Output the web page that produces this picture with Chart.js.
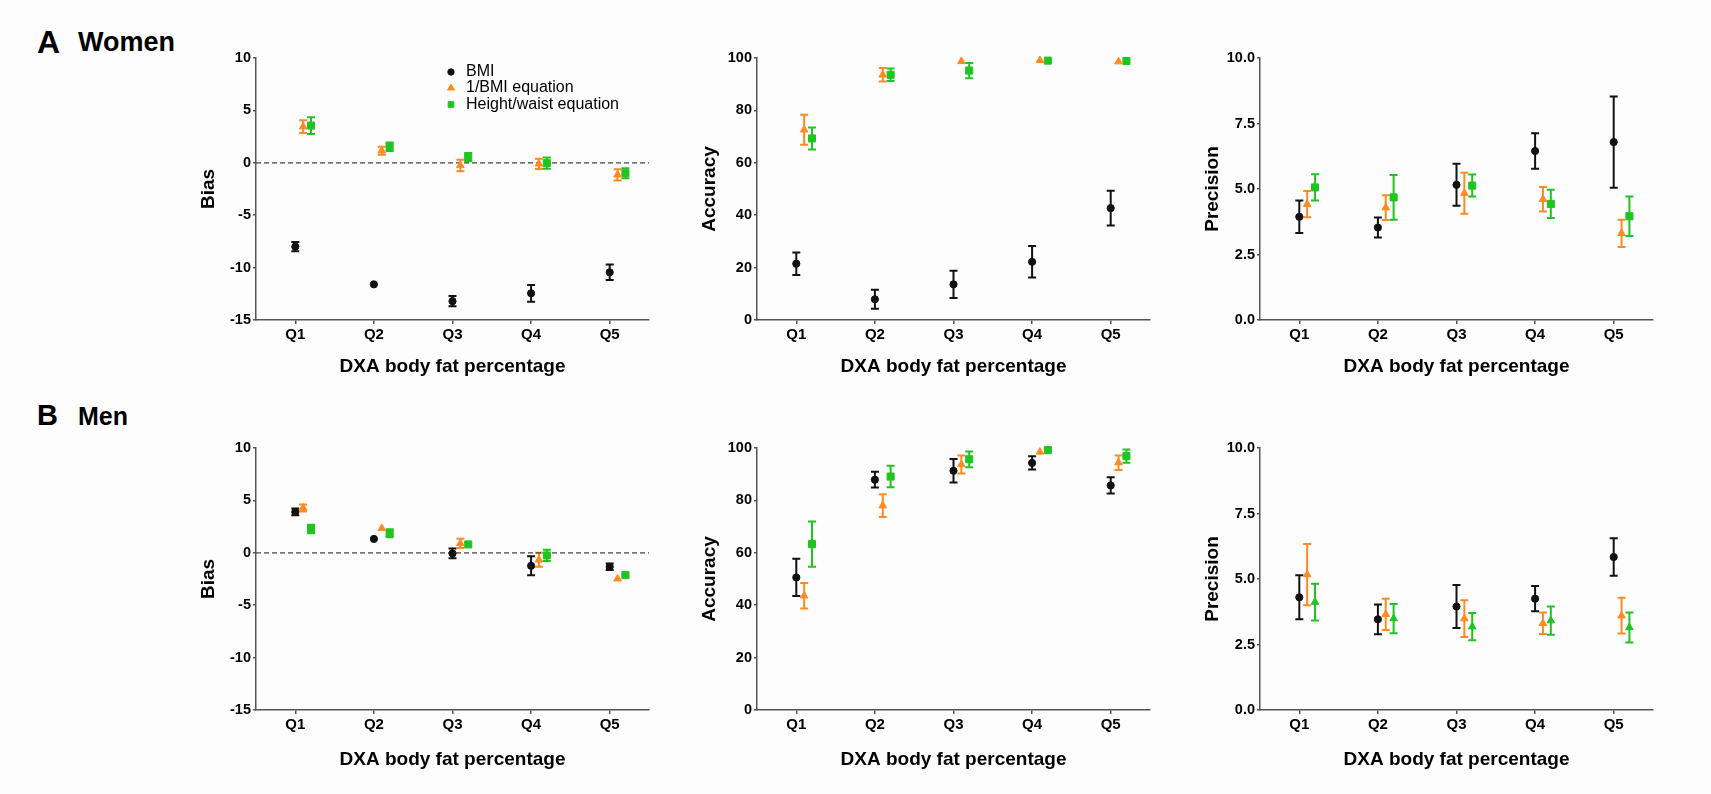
<!DOCTYPE html>
<html>
<head>
<meta charset="utf-8">
<script src="https://cdn.jsdelivr.net/npm/chart.js@4.4.0/dist/chart.umd.min.js"></script>
<style>
  body { margin: 0; width: 1711px; height: 794px; background: #fdfdfd; position: relative; overflow: hidden;
         font-family: Arial, "Liberation Sans", sans-serif; }
  canvas { position: absolute; }
  .tag { position: absolute; font-weight: bold; color: #000; white-space: nowrap; line-height: 1; }
</style>
</head>
<body>
<div class="tag" style="left:37px; top:26px; font-size:32px;">A</div>
<div class="tag" style="left:78px; top:29px; font-size:27px;">Women</div>
<div class="tag" style="left:37px; top:401px; font-size:29px;">B</div>
<div class="tag" style="left:78px; top:404px; font-size:25px;">Men</div>

<canvas id="wBias" width="498" height="362"></canvas>
<canvas id="wAcc" width="498" height="362"></canvas>
<canvas id="wPrec" width="498" height="362"></canvas>
<canvas id="mBias" width="498" height="362"></canvas>
<canvas id="mAcc" width="498" height="362"></canvas>
<canvas id="mPrec" width="498" height="362"></canvas>

<script>
// categories
const quintiles = ["Q1", "Q2", "Q3", "Q4", "Q5"];
const seriesNames = ["BMI", "1/BMI equation", "Height/waist equation"];

// women - bias (mean, ± error)
const wBiasBmi = [-8.0, -11.6, -13.2, -12.45, -10.45];
const wBiasBmiErr = [0.45, 0, 0.48, 0.8, 0.74];
const wBiasInv = [3.45, 1.15, -0.25, -0.1, -1.15];
const wBiasInvErr = [0.6, 0.37, 0.55, 0.48, 0.54];
const wBiasHw = [3.55, 1.53, 0.54, -0.03, -0.99];
const wBiasHwErr = [0.8, 0.4, 0.4, 0.54, 0.48];

// women - accuracy
const wAccBmi = [21.5, 7.9, 13.6, 22.2, 42.7];
const wAccBmiErr = [4.3, 3.6, 5.2, 6.0, 6.6];
const wAccInv = [72.6, 93.6, 98.7, 99.1, 98.6];
const wAccInvErr = [5.7, 2.6, 0, 0, 0];
const wAccHw = [69.3, 93.6, 95.2, 99.0, 98.85];
const wAccHwErr = [4.2, 2.4, 2.9, 0, 0];

// women - precision
const wPrecBmi = [3.94, 3.53, 5.16, 6.45, 6.79];
const wPrecBmiErr = [0.62, 0.38, 0.8, 0.68, 1.74];
const wPrecInv = [4.42, 4.29, 4.84, 4.61, 3.31];
const wPrecInvErr = [0.5, 0.47, 0.78, 0.47, 0.52];
const wPrecHw = [5.06, 4.68, 5.13, 4.43, 3.96];
const wPrecHwErr = [0.5, 0.85, 0.42, 0.54, 0.75];

// men - bias
const mBiasBmi = [3.9, 1.32, -0.06, -1.24, -1.33];
const mBiasBmiErr = [0.32, 0, 0.46, 0.9, 0.3];
const mBiasInv = [4.28, 2.34, 0.9, -0.67, -2.48];
const mBiasInvErr = [0.33, 0, 0.45, 0.67, 0];
const mBiasHw = [2.27, 1.86, 0.8, -0.25, -2.13];
const mBiasHwErr = [0.4, 0.38, 0, 0.53, 0];

// men - accuracy
const mAccBmi = [50.6, 87.9, 91.3, 94.3, 85.7];
const mAccBmiErr = [7.1, 3.0, 4.5, 2.55, 3.1];
const mAccInv = [43.6, 78.0, 93.7, 98.5, 94.4];
const mAccInvErr = [4.85, 4.35, 3.4, 0, 2.75];
const mAccHw = [63.3, 89.1, 95.7, 99.2, 96.9];
const mAccHwErr = [8.6, 4.1, 3.0, 0, 2.5];

// men - precision
const mPrecBmi = [4.30, 3.46, 3.95, 4.25, 5.84];
const mPrecBmiErr = [0.84, 0.57, 0.82, 0.48, 0.72];
const mPrecInv = [5.17, 3.65, 3.49, 3.31, 3.60];
const mPrecInvErr = [1.17, 0.6, 0.7, 0.41, 0.68];
const mPrecHw = [4.12, 3.49, 3.18, 3.41, 3.15];
const mPrecHwErr = [0.7, 0.56, 0.52, 0.54, 0.57];

const FONT = 'Arial, "Liberation Sans", sans-serif';
const BLACK = "#111111";
const ORANGE = "#ff8a22";
const GREEN = "#20c420";
const AXIS = "#555555";

// panel geometry (plot area)
const Y_AXIS_W = 95, X_AXIS_H = 75, PAD_TOP = 25, PAD_RIGHT = 10;

function series(vals, errs, offset, style, color, radius) {
  return {
    data: vals.map((v, i) => ({ x: i + 1 + offset, y: v })),
    errors: errs,
    pointStyle: style,
    pointRadius: radius,
    pointHoverRadius: radius,
    backgroundColor: color,
    borderColor: color,
    borderWidth: 1,
    showLine: false,
    clip: false
  };
}

const errorBars = {
  id: "errorBars",
  beforeDatasetsDraw(chart) {
    const { ctx, scales: { x, y } } = chart;
    chart.data.datasets.forEach(ds => {
      ctx.save();
      ctx.strokeStyle = ds.borderColor;
      ctx.lineWidth = 2;
      ds.data.forEach((pt, i) => {
        const e = ds.errors[i];
        if (!e) return;
        const px = x.getPixelForValue(pt.x);
        const top = y.getPixelForValue(pt.y + e);
        const bot = y.getPixelForValue(pt.y - e);
        ctx.beginPath();
        ctx.moveTo(px, top); ctx.lineTo(px, bot);
        ctx.moveTo(px - 4, top); ctx.lineTo(px + 4, top);
        ctx.moveTo(px - 4, bot); ctx.lineTo(px + 4, bot);
        ctx.stroke();
      });
      ctx.restore();
    });
  }
};

const zeroLine = {
  id: "zeroLine",
  beforeDatasetsDraw(chart) {
    const { ctx, chartArea, scales: { y } } = chart;
    const py = y.getPixelForValue(0);
    ctx.save();
    ctx.strokeStyle = "#444";
    ctx.lineWidth = 1.2;
    ctx.setLineDash([5, 3]);
    ctx.beginPath();
    ctx.moveTo(chartArea.left, py);
    ctx.lineTo(chartArea.right, py);
    ctx.stroke();
    ctx.restore();
  }
};

const legendBox = {
  id: "legendBox",
  afterDraw(chart) {
    const { ctx, chartArea } = chart;
    const rows = [14, 30, 46.5];
    chart.data.datasets.forEach((ds, i) => {
      const mx = chartArea.left + 195;
      const my = chartArea.top + rows[i];
      ctx.save();
      ctx.fillStyle = ds.backgroundColor;
      ctx.strokeStyle = ds.borderColor;
      Chart.helpers.drawPoint(ctx, { pointStyle: ds.pointStyle, radius: ds.pointStyle === "circle" ? 3.2 : 4, rotation: 0, borderWidth: 1 }, mx, my);
      ctx.fillStyle = "#000";
      ctx.font = "16px " + FONT;
      ctx.textBaseline = "middle";
      ctx.fillText(seriesNames[i], chartArea.left + 210, my);
      ctx.restore();
    });
  }
};

function makePanel(id, left, top, yTitle, yMin, yMax, yStep, fmt, datasets, extra, titleGap) {
  const cv = document.getElementById(id);
  cv.style.left = (left - Y_AXIS_W) + "px";
  cv.style.top = (top - PAD_TOP) + "px";
  new Chart(cv, {
    type: "scatter",
    data: { datasets },
    options: {
      responsive: false,
      animation: false,
      events: [],
      layout: { padding: { top: PAD_TOP, right: PAD_RIGHT, left: 0, bottom: 0 } },
      plugins: { legend: { display: false }, tooltip: { enabled: false } },
      scales: {
        x: {
          type: "linear",
          min: 0.5,
          max: 5.5,
          afterFit: s => { s.height = X_AXIS_H; },
          afterBuildTicks: s => { s.ticks = quintiles.map((q, i) => ({ value: i + 1 })); },
          ticks: {
            callback: v => quintiles[v - 1],
            color: "#000",
            font: { family: FONT, size: 15, weight: "bold" },
            padding: 2,
            maxRotation: 0
          },
          grid: { drawOnChartArea: false, drawTicks: true, tickLength: 4, color: AXIS, lineWidth: 1.5 },
          border: { display: true, color: AXIS, width: 1.5 },
          title: {
            display: true,
            text: "DXA body fat percentage",
            color: "#000",
            font: { family: FONT, size: 19, weight: "bold" },
            padding: { top: 0, bottom: titleGap }
          }
        },
        y: {
          min: yMin,
          max: yMax,
          afterFit: s => { s.width = Y_AXIS_W; },
          ticks: {
            stepSize: yStep,
            callback: fmt,
            color: "#000",
            font: { family: FONT, size: 14.5, weight: "bold" },
            padding: 2
          },
          grid: { drawOnChartArea: false, drawTicks: true, tickLength: 3, color: AXIS, lineWidth: 1.5 },
          border: { display: true, color: AXIS, width: 1.5 },
          title: {
            display: true,
            text: yTitle,
            color: "#000",
            font: { family: FONT, size: 19, weight: "bold" },
            padding: { top: 36, bottom: 0 }
          }
        }
      }
    },
    plugins: [errorBars].concat(extra)
  });
}

const intFmt = v => v;
const oneDec = v => v.toFixed(1);

function trio(bmi, bmiErr, inv, invErr, hw, hwErr, hwStyle) {
  return [
    series(bmi, bmiErr, 0, "circle", BLACK, 3.6),
    series(inv, invErr, 0.1, "triangle", ORANGE, 4.4),
    series(hw, hwErr, 0.2, hwStyle, GREEN, hwStyle === "rect" ? 5 : 4.4)
  ];
}

const ROW_A = 58, ROW_B = 448;
const COL = [256, 757, 1260];

makePanel("wBias", COL[0], ROW_A, "Bias", -15, 10, 5, intFmt,
  trio(wBiasBmi, wBiasBmiErr, wBiasInv, wBiasInvErr, wBiasHw, wBiasHwErr, "rect"), [zeroLine, legendBox], 17);
makePanel("wAcc", COL[1], ROW_A, "Accuracy", 0, 100, 20, intFmt,
  trio(wAccBmi, wAccBmiErr, wAccInv, wAccInvErr, wAccHw, wAccHwErr, "rect"), [], 17);
makePanel("wPrec", COL[2], ROW_A, "Precision", 0, 10, 2.5, oneDec,
  trio(wPrecBmi, wPrecBmiErr, wPrecInv, wPrecInvErr, wPrecHw, wPrecHwErr, "rect"), [], 17);

makePanel("mBias", COL[0], ROW_B, "Bias", -15, 10, 5, intFmt,
  trio(mBiasBmi, mBiasBmiErr, mBiasInv, mBiasInvErr, mBiasHw, mBiasHwErr, "rect"), [zeroLine], 14);
makePanel("mAcc", COL[1], ROW_B, "Accuracy", 0, 100, 20, intFmt,
  trio(mAccBmi, mAccBmiErr, mAccInv, mAccInvErr, mAccHw, mAccHwErr, "rect"), [], 14);
makePanel("mPrec", COL[2], ROW_B, "Precision", 0, 10, 2.5, oneDec,
  trio(mPrecBmi, mPrecBmiErr, mPrecInv, mPrecInvErr, mPrecHw, mPrecHwErr, "triangle"), [], 14);
</script>
</body>
</html>
